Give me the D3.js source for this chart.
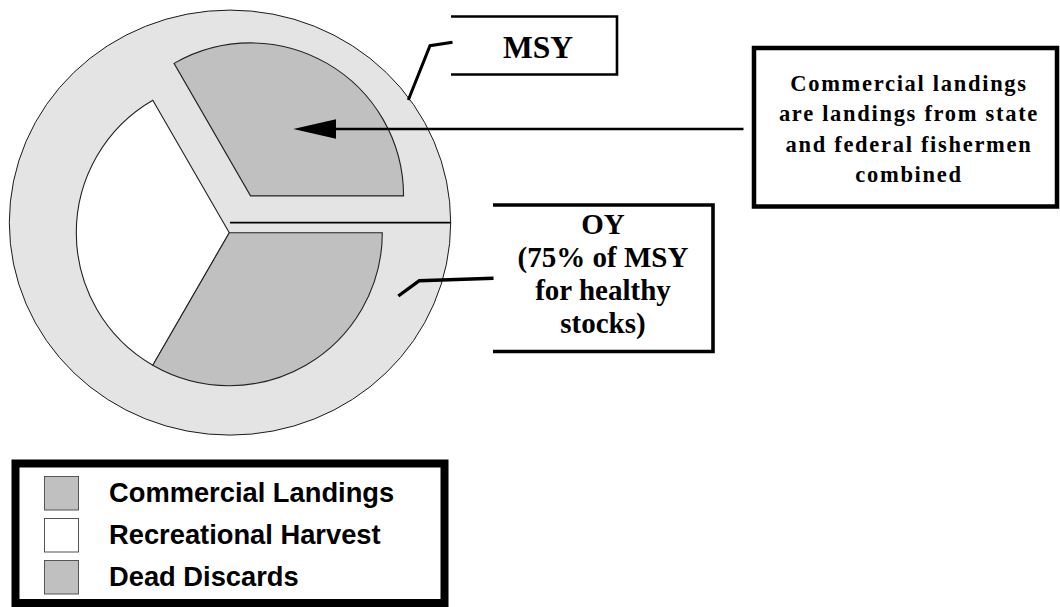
<!DOCTYPE html>
<html>
<head>
<meta charset="utf-8">
<script src="https://cdn.jsdelivr.net/npm/d3@7"></script>
<style>
  html, body { margin: 0; padding: 0; background: #fff; }
  svg { display: block; }
</style>
</head>
<body>
<svg id="chart" width="1060" height="607"></svg>
<script>
// ---------- data ----------
const categories = ["Commercial Landings", "Recreational Harvest", "Dead Discards"];
const shares = [1, 1, 1];                       // three equal thirds of OY
const sliceColors = ["#c0c0c0", "#ffffff", "#c0c0c0"];
const pieOrder = ["Commercial Landings", "Dead Discards", "Recreational Harvest"];
const explodedSlice = "Commercial Landings";
const msyLabel = ["MSY"];
const oyLabel = ["OY", "(75% of MSY", "for healthy", "stocks)"];
const noteLabel = ["Commercial landings", "are landings from state", "and federal fishermen", "combined"];

// ---------- layout ----------
const svg = d3.select("#chart");
const ring = { cx: 230, cy: 222.6, rx: 220.7, ry: 212.5 };
const pieC = { x: 229.3, y: 232.7, r: 153, explode: 42.5 };
const serif = "'Liberation Serif', 'Times New Roman', serif";
const sans = "'Liberation Sans', Arial, sans-serif";

// outer MSY ring
svg.append("ellipse")
  .attr("cx", ring.cx).attr("cy", ring.cy)
  .attr("rx", ring.rx).attr("ry", ring.ry)
  .attr("fill", "#e4e4e4").attr("stroke", "#1a1a1a").attr("stroke-width", 1);

// separator line in the ring
svg.append("line")
  .attr("x1", ring.cx).attr("y1", ring.cy)
  .attr("x2", ring.cx + ring.rx).attr("y2", ring.cy)
  .attr("stroke", "#000").attr("stroke-width", 1.6);

// pie
const rows = categories.map((c, i) => ({ name: c, value: shares[i], color: sliceColors[i] }));
const pie = d3.pie()
  .value(d => d.value)
  .sort((a, b) => pieOrder.indexOf(a.name) - pieOrder.indexOf(b.name))
  .startAngle(-Math.PI / 6)
  .endAngle(-Math.PI / 6 + 2 * Math.PI);
const arc = d3.arc().innerRadius(0).outerRadius(pieC.r);
const arcs = pie(rows);

const g = svg.append("g").attr("transform", `translate(${pieC.x},${pieC.y})`);
g.selectAll("path")
  .data(arcs)
  .join("path")
  .attr("d", arc)
  .attr("transform", d => {
    if (d.data.name !== explodedSlice) return null;
    const a = (d.startAngle + d.endAngle) / 2;
    return `translate(${Math.sin(a) * pieC.explode},${-Math.cos(a) * pieC.explode})`;
  })
  .attr("fill", d => d.data.color)
  .attr("stroke", "#222")
  .attr("stroke-width", 1.1)
  .attr("stroke-linejoin", "miter");

// ---------- callouts ----------
const line = d3.line();

// MSY box (open on the left)
svg.append("path")
  .attr("d", "M451,16.5 H617 V74.5 H451")
  .attr("fill", "none").attr("stroke", "#000").attr("stroke-width", 2.6);
svg.append("path")
  .attr("d", line([[452.5, 42.3], [430, 45.7], [408.3, 100]]))
  .attr("fill", "none").attr("stroke", "#000").attr("stroke-width", 3);
svg.append("text")
  .attr("x", 538).attr("y", 57.5)
  .attr("text-anchor", "middle")
  .attr("font-family", serif).attr("font-weight", "bold").attr("font-size", 31.5)
  .text(msyLabel[0]);

// OY box (open on the left)
svg.append("path")
  .attr("d", "M493,205 H713 V351.5 H493")
  .attr("fill", "none").attr("stroke", "#000").attr("stroke-width", 3.6);
svg.append("path")
  .attr("d", line([[493.5, 278.3], [419.3, 280.7], [398.3, 296]]))
  .attr("fill", "none").attr("stroke", "#000").attr("stroke-width", 3.4);
svg.append("text")
  .attr("text-anchor", "middle")
  .attr("font-family", serif).attr("font-weight", "bold").attr("font-size", 29)
  .selectAll("tspan")
  .data(oyLabel)
  .join("tspan")
  .attr("x", 603)
  .attr("y", (d, i) => 233.5 + i * 33.2)
  .text(d => d);

// note box
svg.append("rect")
  .attr("x", 754).attr("y", 48).attr("width", 303).attr("height", 158.5)
  .attr("fill", "#fff").attr("stroke", "#000").attr("stroke-width", 4.5);
svg.append("text")
  .attr("text-anchor", "middle")
  .attr("font-family", serif).attr("font-weight", "bold").attr("font-size", 22.5)
  .attr("letter-spacing", 1.7)
  .selectAll("tspan")
  .data(noteLabel)
  .join("tspan")
  .attr("x", 909)
  .attr("y", (d, i) => 91 + i * 30.4)
  .text(d => d);

// arrow
svg.append("line")
  .attr("x1", 743.5).attr("y1", 129).attr("x2", 334).attr("y2", 129)
  .attr("stroke", "#000").attr("stroke-width", 2.7);
svg.append("path")
  .attr("d", "M293.3,129 L336,119.3 L336,138.7 Z")
  .attr("fill", "#000");

// ---------- legend ----------
svg.append("rect")
  .attr("x", 15.5).attr("y", 463.5).attr("width", 429).attr("height", 139.5)
  .attr("fill", "#fff").attr("stroke", "#000").attr("stroke-width", 8);

const leg = svg.append("g");
const legRow = leg.selectAll("g")
  .data(rows)
  .join("g")
  .attr("transform", (d, i) => `translate(0,${i * 42})`);
legRow.append("rect")
  .attr("x", 44.5).attr("y", 476.5).attr("width", 34).attr("height", 33.5)
  .attr("fill", d => d.color).attr("stroke", "#555").attr("stroke-width", 1);
legRow.append("text")
  .attr("x", 109).attr("y", 501.7)
  .attr("font-family", sans).attr("font-weight", "bold").attr("font-size", 27.3)
  .text(d => d.name);
</script>
</body>
</html>
